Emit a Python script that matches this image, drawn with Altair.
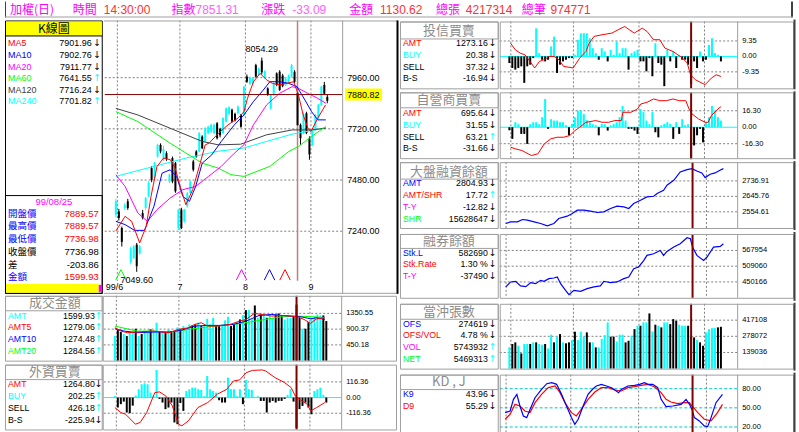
import altair as alt
import pandas as pd

FONT = "Liberation Sans"
CJK = "Noto Sans CJK TC"
ARROW_FONT = "DejaVu Sans"
CYAN, BLACK, RED, BLUE = "#00ffff", "#000000", "#ff0000", "#0000ff"
MAG, GREEN, DGRAY = "#ff00ff", "#00ff00", "#404040"
GRID, FRAME, DRED = "#808080", "#a0a0a0", "#800000"
AX_MAIN, AX_SUB, INFO = 9, 7.5, 8.8

# ---------------- data ----------------
hdr_labels = ["加權(日)", "時間", "指數", "漲跌", "金額", "總張", "總筆"]
hdr_values = ["14:30:00", "7851.31", "-33.09", "1130.62", "4217314", "974771"]

k_open = [7317, 7333, 7255, 7349, 7380, 7095, 7115, 7177, 7138, 7325,
          7349, 7403, 7536, 7490, 7590, 7645, 7580, 7606, 7473, 7583,
          7559, 7255, 7341, 7286, 7357, 7419, 7567, 7614, 7614, 7684,
          7661, 7700, 7707, 7700, 7746, 7720, 7700, 7754, 7790, 7809,
          7790, 7793, 7785, 7785, 7965, 7930, 7933, 8019, 7972, 8040,
          7960, 7910, 7816, 7879, 7980, 7988, 7970, 7926, 7940, 7965,
          7988, 7889.57, 7739, 7700, 7793, 7676, 7645, 7715, 7770, 7832,
          7926, 7870]
k_high = [7392, 7345, 7262, 7372, 7392, 7168, 7175, 7185, 7175, 7340,
          7400, 7475, 7545, 7565, 7650, 7652, 7640, 7615, 7510, 7590,
          7565, 7345, 7350, 7345, 7425, 7478, 7575, 7620, 7705, 7690,
          7728, 7735, 7745, 7745, 7752, 7725, 7775, 7820, 7826, 7815,
          7796, 7830, 7790, 7922, 7975, 7965, 7962, 8025, 8008, 8054.29,
          7995, 7915, 7883, 7938, 7985, 7995, 7978, 7962, 7975, 8024,
          7995, 7889.57, 7745, 7795, 7800, 7685, 7712, 7790, 7837, 7922,
          7940, 7880]
k_low = [7305, 7290, 7168, 7340, 7340, 7085, 7110, 7049.6, 7130, 7295,
         7340, 7400, 7470, 7485, 7585, 7605, 7570, 7570, 7465, 7465,
         7420, 7245, 7250, 7280, 7350, 7415, 7520, 7585, 7610, 7625,
         7655, 7695, 7700, 7695, 7670, 7680, 7695, 7750, 7785, 7750,
         7755, 7788, 7725, 7780, 7935, 7925, 7928, 7960, 7968, 7975,
         7955, 7875, 7810, 7875, 7920, 7898, 7915, 7920, 7935, 7960,
         7935, 7736.98, 7645, 7695, 7695, 7575, 7640, 7710, 7765, 7828,
         7880, 7840]
k_close = [7380, 7302, 7190, 7364, 7349, 7160, 7169, 7076, 7169, 7302,
           7395, 7466, 7481, 7560, 7645, 7614, 7625, 7578, 7505, 7473,
           7427, 7341, 7255, 7341, 7419, 7473, 7528, 7590, 7700, 7629,
           7723, 7730, 7739, 7739, 7676, 7690, 7770, 7816, 7820, 7754,
           7760, 7824, 7730, 7918, 7941, 7960, 7957, 7965, 8003, 7985,
           7990, 7880, 7879, 7933, 7926, 7902, 7920, 7957, 7970, 8019,
           7940.84, 7736.98, 7676, 7790, 7700, 7600, 7707, 7785, 7832, 7918,
           7884.4, 7851.31]

month_bounds = [0.5, 21.5, 43.5, 65.5]
month_labels = ["99/6", "7", "8", "9"]
cursor_day = 61
cross_price = 7880.82
high_day, high_val = 49, 8054.29
low_day, low_val = 7, 7049.60

ma5_day = [0, 3.1, 5.3, 8, 10.2, 11.8, 13.8, 16, 18.3, 19.9, 21.6, 23.5, 25.8, 28, 30, 31.3, 34.5,
           37.7, 41, 43, 44.2, 46.2, 48.4, 50.7, 52.6, 54.9, 57.1, 59.7, 61.3, 62.9, 64.5, 65.5, 67.8, 70.4]
ma5_val = [7241, 7310, 7286, 7185, 7264, 7403, 7543, 7583, 7575, 7536, 7450, 7364, 7435, 7543, 7645, 7653,
           7700, 7739, 7770, 7800, 7863, 7941, 7980, 7949, 7933, 7926, 7933, 7941, 7879, 7785, 7723, 7707,
           7770, 7832]
ma10_day = [0, 3.1, 6.3, 9.6, 12.8, 15.5, 18.2, 20.4, 22.5, 24.7, 26.8, 29, 32.2, 35.4, 39.8, 43, 46.2,
            49.5, 51.7, 54.9, 58.1, 60.8, 63.5, 65.7, 67.8, 70.5]
ma10_val = [7286, 7271, 7244, 7244, 7357, 7512, 7528, 7497, 7403, 7380, 7450, 7559, 7598, 7661, 7739,
            7785, 7848, 7902, 7941, 7941, 7933, 7918, 7855, 7801, 7762, 7762]
ma20_day = [0, 3.1, 7.4, 10.6, 13.8, 18.2, 22.5, 26.8, 31.1, 35.4, 39.8, 43, 46.2, 50.6, 54.9, 59.2,
            61.3, 64.5, 67.8, 70.5]
ma20_val = [7505, 7450, 7325, 7286, 7341, 7395, 7435, 7450, 7497, 7544, 7606, 7645, 7739, 7832, 7886,
            7918, 7910, 7886, 7863, 7840]
ma60_day = [0, 7.4, 18.2, 29, 34.4, 38.7, 43, 51.7, 58.1, 61.3, 65.7, 70.5]
ma60_val = [7801, 7754, 7653, 7559, 7536, 7505, 7497, 7544, 7614, 7637, 7684, 7731]
ma120_day = [0, 7.4, 18.2, 29, 34.4, 41.9, 50.6, 59.2, 65.7, 70.5]
ma120_val = [7816, 7785, 7723, 7661, 7645, 7648, 7692, 7715, 7715, 7723]
ma240_day = [0, 12.8, 23.6, 34.4, 43, 50.6, 59.2, 65.7, 70.5]
ma240_val = [7497, 7544, 7583, 7615, 7630, 7661, 7695, 7712, 7726]

sig_days = [1.7, 42.2, 51.6, 56.8]
sig_cols = [GREEN, MAG, BLUE, RED]

ma_labels = ["MA5", "MA10", "MA20", "MA60", "MA120", "MA240"]
ma_colors = [RED, BLUE, MAG, GREEN, DGRAY, CYAN]
ma_values = ["7901.96", "7902.76", "7911.77", "7641.55", "7716.24", "7701.82"]
ma_arrows = ["↓", "↓", "↓", "↑", "↓", "↑"]
ma_arrow_cols = [BLACK, BLACK, BLACK, CYAN, BLACK, CYAN]

day_date = "99/08/25"
day_labels = ["開盤價", "最高價", "最低價", "收盤價", "差", "金額"]
day_label_cols = [BLUE, BLUE, BLUE, BLACK, BLACK, BLUE]
day_values = ["7889.57", "7889.57", "7736.98", "7736.98", "-203.86", "1599.93"]
day_value_cols = [RED, RED, RED, BLACK, BLACK, RED]

# 成交金額
amount = [703, 874, 817, 760, 703, 845, 845, 912, 703, 760,
          817, 845, 893, 845, 1083, 817, 845, 817, 893, 845,
          817, 950, 893, 988, 874, 1036, 1007, 1036, 1083, 988,
          988, 1196, 1036, 1225, 1007, 988, 1036, 1150, 1254, 988,
          1036, 1100, 1178, 1300, 1443, 1443, 1178, 1576, 1225, 1320,
          1348, 1225, 1273, 1225, 1320, 1348, 1292, 1178, 1225, 1225,
          1273, 1599.93, 1225, 912, 912, 1100, 1225, 1254, 1320, 1292,
          1292, 1130.62]
amt5_day = [0, 2, 4.2, 7.4, 12.8, 18.2, 21.4, 24.7, 26.8, 29, 31.2, 34.4, 38.7, 41.9, 44.1, 46.8, 49.5,
            52.7, 56, 59.2, 61.3, 63.5, 65.7, 67.8, 70.5]
amt5_val = [940, 845, 798, 817, 845, 798, 893, 940, 1035, 1083, 988, 988, 1035, 1130, 1178, 1348, 1320,
            1272, 1291, 1272, 1254, 1178, 1064, 1197, 1225]
amt10_day = [0, 3.1, 7.4, 12.8, 18.2, 22.5, 26.8, 31.2, 35.5, 39.8, 44.1, 48.4, 52.7, 56, 59.2, 62.4,
             65.7, 67.8, 70.5]
amt10_val = [912, 845, 798, 817, 817, 874, 988, 1007, 1007, 1035, 1130, 1291, 1320, 1291, 1272, 1254,
             1197, 1225, 1178]
amt20_day = [0, 7.4, 12.8, 18.2, 21.4, 24.7, 33.3, 39.8, 45.2, 50.6, 56, 61.3, 66.7, 70.5]
amt20_val = [988, 845, 845, 817, 845, 893, 988, 1035, 1102, 1178, 1254, 1272, 1254, 1225]

# 外資買賣
foreign_bs = [12, -74, -49, -30, -111, -116, -60, 15, 62, 99,
              106, 99, 37, 10, 205, -10, -37, -86, -74, -37,
              -185, -198, -40, -99, 49, 62, 74, 74, 62, 57,
              10, 160, 62, 49, 37, -20, -37, -37, 148, 62,
              62, 10, 62, -49, 131, 62, 57, 5, 10, -25,
              -25, -111, -37, -25, -37, -25, -25, -10, 20, 62,
              -30, -225.94, -86, -62, -37, -74, -124, 49, 62, 74,
              20, -37]
foreign_amt_day = [0, 2, 3.6, 6.9, 8.5, 10.7, 13.4, 15, 17.1, 19.3, 21.4, 22.5, 24.7, 27.9, 31.2, 34.4,
                   37.6, 39.8, 41.9, 44.1, 46.2, 49.5, 50.6, 53.8, 57, 59.2, 60.6, 61.9, 64.6, 65.7,
                   67.8, 70.5]
foreign_amt_val = [-74, -111, -124, -198, -185, -111, 37, 42, 12, -62, -198, -210, -173, -74, -37, 25,
                   62, 123, 131, 185, 202, 205, 198, 148, 111, 74, 12, -12, -49, -99, -74, -37]

# 投信買賣
trust_bs = [-4, -7, -8, -7, -6, -16, -6, -5, -1, 17,
            2, -2, -3, -2, 6, 12, -10, -5, -3, -2,
            -1, -1, 1, 10, 14, 14, 14, 11, 5, 2,
            -2, 5, 3, -3, 4, 1, 9, 2, 5, 5,
            -8, 2, 3, 4, -3, -3, -9, -1, -12, 8,
            -4, -5, -18, 4, -3, 3, -7, 1, -2, -2,
            -5, -16.94, -3, -7, 3, -3, -2, 7, 11, 2,
            1, -3]
trust_amt_day = [0.4, 2.0, 3.6, 5.2, 6.9, 8.5, 10.1, 11.7, 13.3, 15.0, 16.6, 18.2, 21.4, 23.6, 25.7,
                 26.8, 28.4, 31.1, 34.4, 36.5, 38.7, 40.3, 41.9, 44.6, 46.2, 48.4, 50.5, 52.2, 54.9,
                 58.1, 59.7, 60.8, 62.4, 65.7, 67.8, 69.4, 71.0]
trust_amt_val = [8, 4, 2, 1, -3, -7, -3, -2, 0, 0, -2, -6, -7, -1, 3, 8, 12.1, 13.1, 14.1, 16.1,
                 18.1, 16.1, 14.1, 17.1, 15.1, 10.1, 10.1, 5, 3, -1, -4, -11.1, -14.1, -17.1, -13.1,
                 -11.1, -12.1]

# 自營商買賣
dealer_bs = [-3, -11.5, 5, 3, -6.6, -6.6, -16.5, 3, 5, 5,
             3, 10, 28, -1.6, 8, 6.6, 6.6, 5, 5, 2,
             -8, 3.3, 10, 16.5, 16.5, 13, 7, 5, 3, 2,
             -8, 3.3, 3, -3.3, 2, 3.3, 5, 10, 21, 6.6,
             -1.6, -1.6, -3.3, -6.6, 18, 15, 6.6, 3, 15, -5,
             -10, 2, 3.3, 5, 3.3, -11.5, 5, -6.6, 8, 2,
             3, -31.66, -18, -8, -1.6, -15, 5, 10, 21, 16.5,
             10, 6.6]
dealer_amt_day = [0.4, 2.0, 4.2, 6.3, 7.4, 9.6, 11.7, 13.9, 16.0, 18.2, 20.3, 22.0, 23.6, 25.7, 29.0,
                  31.1, 33.3, 35.4, 37.6, 38.1, 40.8, 43.0, 44.1, 46.2, 48.4, 50.5, 52.7, 54.9, 57.0,
                  59.2, 60.3, 61.3, 63.5, 65.7, 66.7, 67.8, 70.0, 71.0]
dealer_amt_val = [-19.7, -21.4, -23, -26.3, -28, -26.3, -16.5, -11.5, -9.9, -9.9, -8.2, -3.3, 0, 4.9,
                  6.6, 4.9, 4.9, 6.6, 6.6, 14.8, 14.8, 18.1, 23, 24.7, 28, 26.3, 26.3, 28, 26.3, 26.3,
                  18.1, 13.2, 8.2, 4.9, 4.9, 11.5, 18.1, 20.4]

# 大盤融資餘額
margin_day = [0.4, 2.0, 4.2, 5.8, 7.4, 9.6, 11.7, 13.9, 16.0, 17.6, 20.3, 22.0, 23.6, 25.7, 27.9, 30.1,
              32.2, 34.4, 36.5, 38.7, 40.3, 41.9, 44.1, 46.2, 48.4, 49.5, 51.6, 52.7, 54.9, 57.0, 59.2,
              60.8, 62.4, 64.0, 65.1, 66.7, 68.3, 69.9, 71.0]
margin_val = [2485.9, 2495.7, 2495.7, 2509.4, 2505.5, 2495.7, 2485.9, 2472.2, 2485.9, 2515.3, 2529.0,
              2544.7, 2564.3, 2564.3, 2558.4, 2550.6, 2554.5, 2574.1, 2587.8, 2583.9, 2574.1, 2603.5,
              2623.1, 2642.7, 2646.6, 2662.3, 2681.9, 2711.3, 2740.7, 2789.7, 2803.4, 2809.3, 2795.6,
              2783.9, 2756.4, 2776.0, 2783.9, 2799.5, 2809.3]

# 融券餘額
short_day = [0.4, 2.0, 3.6, 5.2, 6.9, 8.5, 10.1, 11.7, 12.8, 14.4, 16.0, 17.1, 18.2, 19.8, 20.9, 22.5,
             24.7, 26.8, 29.0, 31.1, 32.2, 34.4, 36.5, 38.7, 40.3, 41.9, 43.5, 45.2, 46.2, 48.4, 50.5,
             51.6, 52.7, 54.9, 57.0, 59.2, 60.3, 61.0, 62.4, 64.6, 65.7, 67.8, 70.0, 71.0]
short_val = [431531, 450166, 452651, 435258, 432766, 447681, 443830, 456250, 452651, 462466, 464962,
             468693, 443830, 418971, 402836, 418971, 415247, 425195, 431531, 435258, 452651, 447681,
             450166, 462466, 468693, 499734, 506071, 530783, 549418, 555641, 568052, 549418, 564325,
             580502, 592907, 615269, 611542, 580502, 549418, 530783, 543341, 580502, 583000, 592907]

# 當沖張數
dt_ofs = [183000, 212000, 226000, 197000, 131000, 212000, 212000, 212000, 226000, 226000, 212000, 206000,
          212000, 174000, 292000, 226000, 275000, 297000, 226000, 218000,
          226000, 246000, 318000, 246000, 318000, 275000, 312000, 226000, 226000, 183000,
          183000, 255000, 289000, 398000, 275000, 275000, 235000, 292000,
          292000, 226000, 240000, 283000, 340000, 369000,
          369000, 398000, 398000, 475000, 320000, 378000, 369000, 355000, 398000, 398000, 383000,
          426000, 412000, 378000, 369000, 369000, 369000, 274619,
          269000, 246000, 226000, 197000, 312000, 340000, 349000, 349000, 355000, 360000]

# KD
k9_day = [0.2, 1.8, 2.9, 4.0, 5.0, 6.1, 7.2, 8.3, 9.9, 12.0, 13.7, 15.3, 16.9, 18.5, 20.1, 21.7, 22.8,
          23.9, 25.5, 27.1, 28.7, 29.8, 31.4, 33.1, 34.7, 35.8, 37.0, 37.9, 40.0, 42.2, 43.8, 45.4, 46.5,
          48.1, 49.7, 50.8, 52.4, 54.6, 57.3, 58.9, 60.0, 60.8, 61.6, 63.2, 64.8, 65.9, 67.0, 68.6, 70.7]
k9_val = [42.5, 45.1, 63.3, 71.1, 52.9, 37.3, 34.7, 47.7, 65.9, 78.9, 87.8, 89.4, 86.8, 71.1, 52.9, 34.7,
          24.3, 32.1, 52.9, 71.1, 79.9, 84.2, 86.8, 84.2, 81.6, 77.9, 73.8, 78.9, 84.2, 85.2, 86.8, 89.4,
          86.8, 86.8, 81.6, 63.3, 51.8, 52.9, 55.5, 63.3, 55.5, 47.7, 34.7, 29.5, 21.7, 20.6, 34.7, 58.1,
          71.1]
d9_day = [0.2, 1.8, 3.4, 5.0, 6.6, 8.3, 9.9, 12.0, 14.2, 16.4, 18.0, 19.6, 21.7, 23.3, 24.9, 27.1, 29.3,
          31.4, 33.6, 35.8, 37.9, 40.0, 42.2, 44.3, 46.5, 48.6, 50.8, 52.4, 54.0, 56.2, 58.3, 60.0, 60.8,
          62.7, 64.8, 67.0, 69.1, 70.7]
d9_val = [32.1, 39.9, 55.5, 52.9, 45.1, 42.5, 58.1, 71.1, 81.6, 84.2, 73.8, 58.1, 42.5, 37.3, 47.7, 63.3,
          74.8, 81.6, 81.6, 77.9, 76.4, 81.6, 83.1, 85.2, 86.8, 83.1, 73.8, 63.3, 59.1, 56.5, 58.1, 58.1,
          52.9, 42.5, 32.1, 29.5, 42.5, 55.5]

# ---------------- helpers ----------------
XL = [-2.395, 93.398]
XR = [-1.553, 95.534]
ONE = pd.DataFrame({"k": [0]})
candle_cols = [CYAN if c >= o else BLACK for o, c in zip(k_open, k_close)]


def xq(dom):
    return alt.X("day:Q", scale=alt.Scale(domain=dom, nice=False, zero=False), axis=None)


def yq(dom, f="v"):
    return alt.Y(f"{f}:Q", scale=alt.Scale(domain=dom, nice=False, zero=False), axis=None)


def rect_px(x0, y0, x1, y1, stroke=None, fill=None, sw=1):
    kw = {}
    if stroke:
        kw.update(stroke=stroke, strokeWidth=sw)
    if fill:
        kw["fill"] = fill
    else:
        kw["fillOpacity"] = 0
    return alt.Chart(ONE).mark_rect(**kw).encode(
        x=alt.value(x0), x2=alt.value(x1), y=alt.value(y0), y2=alt.value(y1))


def rule_px(x0, y0, x1, y1, color, sw=1):
    return alt.Chart(ONE).mark_rule(color=color, strokeWidth=sw).encode(
        x=alt.value(x0), x2=alt.value(x1), y=alt.value(y0), y2=alt.value(y1))


def text_px(x, y, s, color, size, font=FONT, align="left"):
    return alt.Chart(ONE).mark_text(text=s, color=color, fontSize=size, font=font, align=align,
                                    baseline="middle").encode(x=alt.value(x), y=alt.value(y))


def series(days, vals, color, xdom, ydom, sw=1):
    df = pd.DataFrame({"day": days, "v": vals})
    return alt.Chart(df).mark_line(color=color, strokeWidth=sw).encode(x=xq(xdom), y=yq(ydom))


def bars(vals, colors, xdom, ydom):
    df = pd.DataFrame({"day": list(range(len(vals))), "v": vals, "col": colors})
    return alt.Chart(df).mark_bar(size=2).encode(
        x=xq(xdom), y=yq(ydom), y2=alt.datum(0), color=alt.Color("col:N", scale=None))


def sign_cols(vals):
    return [CYAN if v >= 0 else BLACK for v in vals]


def hgrid(vals, ydom, x0, x1, color=GRID, dash=(2, 2)):
    kw = dict(color=color, strokeWidth=1)
    if dash:
        kw["strokeDash"] = list(dash)
    df = pd.DataFrame({"v": vals})
    return alt.Chart(df).mark_rule(**kw).encode(y=yq(ydom), x=alt.value(x0), x2=alt.value(x1))


def vlines(days, xdom, y0, y1, color=GRID, sw=1, dash=None):
    kw = dict(color=color, strokeWidth=sw)
    if dash:
        kw["strokeDash"] = list(dash)
    df = pd.DataFrame({"day": days})
    return alt.Chart(df).mark_rule(**kw).encode(x=xq(xdom), y=alt.value(y0), y2=alt.value(y1))


def ylabels(vals, texts, ydom, x, size):
    df = pd.DataFrame({"v": vals, "t": texts})
    return alt.Chart(df).mark_text(align="left", baseline="middle", font=FONT, fontSize=size,
                                   color=BLACK).encode(x=alt.value(x), y=yq(ydom), text="t:N")


def info_rows(labels, lcols, vals, vcols, arrows, acols, y0, dy, xl, xv, xa, size,
              lfont=FONT, lsize=None):
    df = pd.DataFrame({"lab": labels, "lc": lcols, "val": vals, "vc": vcols,
                       "arr": arrows, "ac": acols, "i": list(range(len(labels)))})
    base = alt.Chart(df).transform_calculate(py=f"{y0} + datum.i * {dy}")
    ypos = alt.Y("py:Q", scale=None, axis=None)
    out = [
        base.mark_text(align="left", baseline="middle", font=lfont, fontSize=lsize or size).encode(
            x=alt.value(xl), y=ypos, text="lab:N", color=alt.Color("lc:N", scale=None)),
        base.mark_text(align="right", baseline="middle", font=FONT, fontSize=size).encode(
            x=alt.value(xv), y=ypos, text="val:N", color=alt.Color("vc:N", scale=None)),
    ]
    if xa is not None:
        out.append(base.mark_text(align="center", baseline="middle", font=ARROW_FONT, fontSize=9.5).encode(
            x=alt.value(xa), y=ypos, text="arr:N", color=alt.Color("ac:N", scale=None)))
    return out


def info_view(w, cfg, side, title, labels, lcols, vals, arrows, acols):
    h, ft, fb, ty, ry0, rdy = cfg
    if side == "L":
        fx0, fx1, xl, xv, xa, tx = 5.5, 102.5, 8, 95, 99, 55
    else:
        fx0, fx1, xl, xv, xa, tx = 1.5, 99.5, 4, 89, 94, 50
    lay = [
        rect_px(fx0, ft + 0.5, fx1, fb + 0.5, stroke=FRAME),
        rect_px(fx0, ft + 0.5, fx1, ty + 7.5, stroke=FRAME),
        text_px(tx, ty, title, "#8c8c8c", 13, CJK, "center"),
    ]
    lay += info_rows(labels, lcols, vals, [BLACK] * len(vals), arrows, acols, ry0, rdy, xl, xv, xa, INFO)
    return alt.layer(*lay).properties(width=w, height=h)


def plot_view(w, cfg, side, ydom, ticks, tlabels, data, zero=False, gcol=GRID, gdash=(2, 2)):
    h, ft, fb = cfg[0], cfg[1], cfg[2]
    if side == "L":
        xdom, px0, px1, lx = XL, 1, 239, 244
    else:
        xdom, px0, px1, lx = XR, 0, 238, 243
    gt = [t for t in ticks if not (zero and t == 0)]
    lay = [hgrid(gt, ydom, px0, px1, gcol, gdash), vlines(month_bounds, xdom, ft, fb, GRID, 1, (2, 2))]
    if zero:
        lay.append(hgrid([0], ydom, px0, px1, CYAN, None))
    lay += data
    lay.append(vlines([cursor_day], xdom, ft, fb, DRED, 2))
    lay.append(ylabels(ticks, tlabels, ydom, lx, AX_SUB))
    lay.append(rect_px(0.5, ft + 0.5, 294.5, fb + 0.5, stroke=FRAME))
    lay.append(rule_px(px1 + 0.5, ft, px1 + 0.5, fb, FRAME))
    if side == "R":
        lay.append(rule_px(295.5, 0, 295.5, h, DGRAY, 2))
    return alt.layer(*lay).properties(width=w, height=h)


# ---------------- header ----------------
hdr_label_x = [10, 73, 172, 262, 350, 437, 523]
hdr_value_x = [104, 196, 293, 381, 467, 552]
hdr_value_cols = ["#ff3030", "#ff60ff", "#ff60ff", "#ff3030", "#ff3030", "#ff3030"]
hlay = [text_px(x, 8.5, s, MAG, 12, CJK) for x, s in zip(hdr_label_x, hdr_labels)]
hlay += [text_px(x, 8.5, s, c, 12, FONT) for x, s, c in zip(hdr_value_x, hdr_values, hdr_value_cols)]
hlay += [rule_px(5.5, 0, 5.5, 16, DGRAY), rule_px(794, 0, 794, 16, DGRAY, 2),
         rule_px(5, 15.5, 795, 15.5, FRAME)]
header = alt.layer(*hlay).properties(width=799, height=16)

# ---------------- main K chart ----------------
MAIN_Y = [6941.76, 8232.68]
main_ticks = [7960, 7720, 7480, 7240]
main_tlabels = ["7960.00", "7720.00", "7480.00", "7240.00"]

cand = pd.DataFrame({"day": list(range(len(k_open))), "o": k_open, "h": k_high, "l": k_low,
                     "c": k_close, "col": candle_cols})
wick = alt.Chart(cand).mark_rule(strokeWidth=1).encode(
    x=xq(XL), y=yq(MAIN_Y, "l"), y2=alt.Y2("h:Q"), color=alt.Color("col:N", scale=None))
body = alt.Chart(cand).mark_bar(size=2).encode(
    x=xq(XL), y=yq(MAIN_Y, "o"), y2=alt.Y2("c:Q"), color=alt.Color("col:N", scale=None))

sig = alt.Chart(pd.DataFrame({"day": sig_days, "col": sig_cols})).mark_point(
    shape="M -1 1 L 0 -1 L 1 1", filled=False, size=110, strokeWidth=1, opacity=1).encode(
    x=xq(XL), y=alt.value(256), color=alt.Color("col:N", scale=None))

hi_df = pd.DataFrame({"day": [high_day], "v": [high_val], "t": [f"{high_val:.2f}"]})
lo_df = pd.DataFrame({"day": [low_day], "v": [low_val], "t": [f"{low_val:.2f}"]})
hi_txt = alt.Chart(hi_df).mark_text(font=FONT, fontSize=AX_MAIN, dy=-9, color=BLACK).encode(
    x=xq(XL), y=yq(MAIN_Y), text="t:N")
lo_txt = alt.Chart(lo_df).mark_text(font=FONT, fontSize=AX_MAIN, dy=8, color=BLACK).encode(
    x=xq(XL), y=yq(MAIN_Y), text="t:N")

cross_df = pd.DataFrame({"v": [cross_price], "t": [f"{cross_price:.2f}"]})
cross_box = alt.Chart(cross_df).transform_calculate(top="datum.v + 28", bot="datum.v - 28").mark_rect(
    fill="#ffff00").encode(x=alt.value(242), x2=alt.value(279), y=yq(MAIN_Y, "top"), y2=alt.Y2("bot:Q"))
cross_txt = alt.Chart(cross_df).mark_text(align="left", baseline="middle", font=FONT, fontSize=AX_MAIN,
                                          color=BLACK).encode(x=alt.value(244), y=yq(MAIN_Y), text="t:N")

ml_df = pd.DataFrame({"day": month_bounds[1:], "t": month_labels[1:]})
ml = alt.Chart(ml_df).mark_text(font=FONT, fontSize=AX_MAIN, baseline="middle", color=BLACK).encode(
    x=xq(XL), y=alt.value(268), text="t:N")

main_plot = alt.layer(
    hgrid(main_ticks, MAIN_Y, 1, 239),
    vlines(month_bounds, XL, 1, 262, GRID, 1, (2, 2)),
    vlines([cursor_day], XL, 1, 262, "#c08080", 1.5),
    wick, body,
    series(ma240_day, ma240_val, CYAN, XL, MAIN_Y),
    series(ma120_day, ma120_val, DGRAY, XL, MAIN_Y),
    series(ma60_day, ma60_val, GREEN, XL, MAIN_Y),
    series(ma20_day, ma20_val, MAG, XL, MAIN_Y),
    series(ma10_day, ma10_val, BLUE, XL, MAIN_Y),
    series(ma5_day, ma5_val, RED, XL, MAIN_Y),
    hgrid([cross_price], MAIN_Y, 1, 239, DRED, None),
    sig, hi_txt, lo_txt,
    ylabels(main_ticks, main_tlabels, MAIN_Y, 244, AX_MAIN),
    cross_box, cross_txt, ml,
    text_px(2, 268, month_labels[0], BLACK, AX_MAIN),
    rule_px(0, 1.5, 295, 1.5, FRAME),
    rule_px(0, 274.5, 295, 274.5, FRAME),
    rule_px(239.5, 1, 239.5, 275, FRAME),
    rule_px(294.5, 1, 294.5, 275, BLACK, 2),
).properties(width=296, height=276)

main_info = alt.layer(
    rect_px(5.5, 1.5, 102.5, 274.5, stroke=BLACK),
    rect_px(6, 2, 102, 16.5, fill="#ffff00"),
    rule_px(5.5, 16.5, 102.5, 16.5, BLACK),
    text_px(54, 9.5, "K線圖", BLACK, 12, CJK, "center"),
    *info_rows(ma_labels, ma_colors, ma_values, [BLACK] * 6, ma_arrows, ma_arrow_cols,
               24, 11.6, 8, 92, 97.5, 9),
    rect_px(5.5, 176.5, 102.5, 274.5, stroke=BLACK),
    text_px(54, 183, day_date, MAG, 9.5, FONT, "center"),
    *info_rows(day_labels, day_label_cols, day_values, day_value_cols, [""] * 6, [BLACK] * 6,
               194.5, 12.8, 8, 99, None, 9.5, CJK, 9.5),
    rect_px(6, 265, 99, 274, fill="#ffff00"),
    rect_px(99, 266, 102.5, 273, fill=MAG),
).properties(width=103, height=276)

# ---------------- sub panels ----------------
CFG = {
    "p1": (70, 2, 69, 12, 24, 11.7), "p2": (68, 1, 67, 9, 22, 11.7), "p3": (69, 1, 67, 10.5, 22, 11.9),
    "p4": (69, 2, 66, 9, 21, 11.6), "p5": (68, 1, 66, 9, 21, 11.7), "p6": (72, 2, 67, 9.5, 21, 12),
    "p7": (68, 1, 66, 8.5, 21, 11.7), "p8": (72, 2, 67, 9.5, 21, 12),
}
Y1, Y2, Y3, Y4 = [-19.91, 22.32], [-31.61, 35.56], [2447.6, 2853.4], [379716, 636913]
Y5, Y6, Y7, Y8 = [-17165, 566445], [-7.34, 105.16], [-57, 1880.4], [-274.2, 259.4]

p7_info = info_view(103, CFG["p7"], "L", "成交金額", ["AMT", "AMT5", "AMT10", "AMT20"],
                    [CYAN, RED, BLUE, GREEN], ["1599.93", "1279.06", "1274.48", "1284.56"],
                    ["↑"] * 4, [CYAN] * 4)
p7_plot = plot_view(296, CFG["p7"], "L", Y7, [1350.55, 900.37, 450.18], ["1350.55", "900.37", "450.18"],
                    [bars(amount, candle_cols, XL, Y7),
                     series(amt20_day, amt20_val, GREEN, XL, Y7),
                     series(amt10_day, amt10_val, BLUE, XL, Y7),
                     series(amt5_day, amt5_val, RED, XL, Y7)])
p8_info = info_view(103, CFG["p8"], "L", "外資買賣", ["AMT", "BUY", "SELL", "B-S"],
                    [RED, CYAN, BLACK, BLACK], ["1264.80", "202.25", "426.18", "-225.94"],
                    ["↓", "↑", "↑", "↓"], [BLACK, CYAN, CYAN, BLACK])
p8_plot = plot_view(296, CFG["p8"], "L", Y8, [116.36, 0, -116.36], ["116.36", "0.00", "-116.36"],
                    [bars(foreign_bs, sign_cols(foreign_bs), XL, Y8),
                     series(foreign_amt_day, foreign_amt_val, RED, XL, Y8)], zero=True)

r1 = alt.hconcat(
    info_view(100, CFG["p1"], "R", "投信買賣", ["AMT", "BUY", "SELL", "B-S"], [RED, CYAN, BLACK, BLACK],
              ["1273.16", "20.38", "37.32", "-16.94"], ["↓"] * 4, [BLACK] * 4),
    plot_view(300, CFG["p1"], "R", Y1, [9.35, 0, -9.35], ["9.35", "0.00", "-9.35"],
              [bars(trust_bs, sign_cols(trust_bs), XR, Y1),
               series(trust_amt_day, trust_amt_val, RED, XR, Y1)], zero=True), spacing=0)
r2 = alt.hconcat(
    info_view(100, CFG["p2"], "R", "自營商買賣", ["AMT", "BUY", "SELL", "B-S"], [RED, CYAN, BLACK, BLACK],
              ["695.64", "31.55", "63.21", "-31.66"], ["↓", "↓", "↑", "↓"], [BLACK, BLACK, CYAN, BLACK]),
    plot_view(300, CFG["p2"], "R", Y2, [16.3, 0, -16.3], ["16.30", "0.00", "-16.30"],
              [bars(dealer_bs, sign_cols(dealer_bs), XR, Y2),
               series(dealer_amt_day, dealer_amt_val, RED, XR, Y2)], zero=True), spacing=0)
r3 = alt.hconcat(
    info_view(100, CFG["p3"], "R", "大盤融資餘額", ["AMT", "AMT/SHR", "T-Y", "SHR"], [BLUE, RED, MAG, GREEN],
              ["2804.93", "17.72", "-12.82", "15628647"], ["↓", "↑", "↓", "↓"], [BLACK, CYAN, BLACK, BLACK]),
    plot_view(300, CFG["p3"], "R", Y3, [2736.91, 2645.76, 2554.61], ["2736.91", "2645.76", "2554.61"],
              [series(margin_day, margin_val, BLUE, XR, Y3, 1.2)]), spacing=0)
r4 = alt.hconcat(
    info_view(100, CFG["p4"], "R", "融券餘額", ["Stk.L", "Stk.Rate", "T-Y"], [BLUE, RED, MAG],
              ["582690", "1.30 %", "-37490"], ["↓"] * 3, [BLACK] * 3),
    plot_view(300, CFG["p4"], "R", Y4, [567954, 509060, 450166], ["567954", "509060", "450166"],
              [series(short_day, short_val, BLUE, XR, Y4, 1.2)]), spacing=0)
r5 = alt.hconcat(
    info_view(100, CFG["p5"], "R", "當沖張數", ["OFS", "OFS/VOL", "VOL", "NET"], [BLUE, RED, MAG, GREEN],
              ["274619", "4.78 %", "5743932", "5469313"], ["↓", "↓", "↑", "↑"], [BLACK, BLACK, CYAN, CYAN]),
    plot_view(300, CFG["p5"], "R", Y5, [417108, 278072, 139036], ["417108", "278072", "139036"],
              [bars(dt_ofs, candle_cols, XR, Y5)]), spacing=0)
r6 = alt.hconcat(
    info_view(100, CFG["p6"], "R", "KD , J", ["K9", "D9"], [BLUE, RED], ["43.96", "55.29"],
              ["↓", "↓"], [BLACK, BLACK]),
    plot_view(300, CFG["p6"], "R", Y6, [80, 50, 20], ["80.00", "50.00", "20.00"],
              [series(d9_day, d9_val, RED, XR, Y6, 1.2), series(k9_day, k9_val, BLUE, XR, Y6, 1.2)],
              gcol="#00c8c8", gdash=(3, 2)), spacing=0)

left_col = alt.vconcat(
    alt.hconcat(main_info, main_plot, spacing=0),
    alt.hconcat(p7_info, p7_plot, spacing=0),
    alt.hconcat(p8_info, p8_plot, spacing=0),
    spacing=0)
right_col = alt.vconcat(r1, r2, r3, r4, r5, r6, spacing=0)

chart = alt.vconcat(header, alt.hconcat(left_col, right_col, spacing=0), spacing=0).properties(
    background="white", padding=0
).configure_view(strokeWidth=0).configure_concat(spacing=0)

chart.save("out.html", embed_options={"renderer": "svg", "actions": False})
